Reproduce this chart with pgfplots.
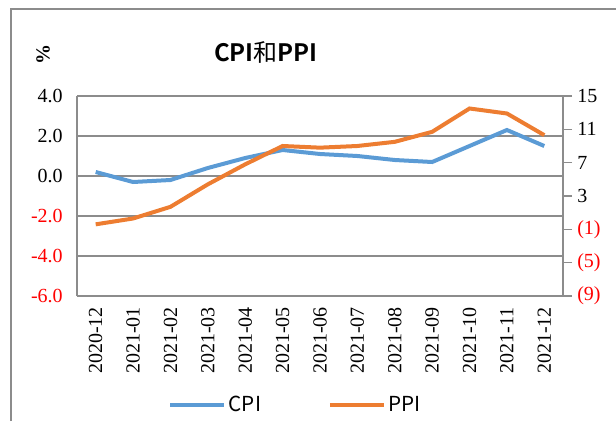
\documentclass[border=0pt]{standalone}
\usepackage{pgfplots}
\pgfplotsset{compat=1.18}
\usepackage{fontspec}
\setmainfont{Liberation Serif}
\newfontfamily\cjk{Noto Sans CJK SC}[BoldFont={Noto Sans CJK SC Bold}]
\definecolor{cpiblue}{HTML}{5B9BD5}
\definecolor{ppiorange}{HTML}{ED7D31}
\definecolor{gridgray}{HTML}{8C8C8C}
\begin{document}
\begin{tikzpicture}
\useasboundingbox (0,0) rectangle (462pt,315.75pt);
\draw[gridgray, line width=1.2pt] (8.25pt,0pt) -- (8.25pt,309pt) -- (462pt,309pt);
\node[font=\cjk\bfseries\fontsize{18}{20}\selectfont, anchor=center] at (199.5pt,276.75pt) {CPI{\mdseries 和}PPI};
\node[font=\bfseries\fontsize{15}{17}\selectfont, rotate=90, anchor=center] at (32.25pt,274.5pt) {\%};
\begin{axis}[
  at={(57.75pt,93.75pt)}, anchor=south west,
  scale only axis, width=364.5pt, height=150pt,
  xmin=-0.5, xmax=12.5, ymin=-6, ymax=4,
  xtick={0,...,12},
  xticklabels={2020-12,2021-01,2021-02,2021-03,2021-04,2021-05,2021-06,2021-07,2021-08,2021-09,2021-10,2021-11,2021-12},
  ytick={-6,-4,-2,0,2,4},
  yticklabels={{\textcolor{red}{-6.0}},{\textcolor{red}{-4.0}},{\textcolor{red}{-2.0}},0.0,2.0,4.0},
  major tick length=0pt,
  ymajorgrids,
  grid style={gridgray, line width=1.2pt},
  axis line style={gridgray, line width=1.2pt},
  axis y line*=left, axis x line*=bottom,
  separate axis lines,
  every outer x axis line/.append style={gridgray},
  yticklabel style={font=\fontsize{15}{17}\selectfont, inner sep=0pt, anchor=east, xshift=-10.5pt},
  xticklabel style={font=\fontsize{15}{17}\selectfont, inner sep=0pt, yshift=-8.25pt, rotate=90, anchor=east},
  clip=false,
  legend columns=2,
  legend style={draw=none, fill=none, at={(0.4500,-0.545)}, anchor=center,
    font=\cjk\fontsize{15.5}{17}\selectfont,
    /tikz/every even column/.append style={column sep=48pt}},
  legend image code/.code={\draw[#1] (0pt,0pt) -- (40.5pt,0pt);},
]
\addplot[cpiblue, line width=3pt] coordinates {
(0,0.2) (1,-0.3) (2,-0.2) (3,0.4) (4,0.9) (5,1.3) (6,1.1) (7,1.0) (8,0.8) (9,0.7) (10,1.5) (11,2.3) (12,1.5)};
\addlegendentry{CPI}
\addlegendimage{ppiorange, line width=3pt}
\addlegendentry{PPI}
\end{axis}
\begin{axis}[
  at={(57.75pt,93.75pt)}, anchor=south west,
  scale only axis, width=364.5pt, height=150pt,
  xmin=-0.5, xmax=12.5, ymin=-9, ymax=15,
  axis x line=none,
  axis y line*=right,
  ytick={-9,-5,-1,3,7,11,15},
  yticklabels={{\textcolor{red}{(9)}},{\textcolor{red}{(5)}},{\textcolor{red}{(1)}},3,7,11,15},
  tick align=outside,
  major tick length=6.75pt,
  tick style={gridgray, line width=1.2pt},
  axis line style={gridgray, line width=1.2pt},
  yticklabel style={font=\fontsize{15}{17}\selectfont, inner sep=0pt, anchor=west, xshift=3.75pt},
  clip=false,
]
\addplot[ppiorange, line width=3pt] coordinates {
(0,-0.4) (1,0.3) (2,1.7) (3,4.4) (4,6.8) (5,9.0) (6,8.8) (7,9.0) (8,9.5) (9,10.7) (10,13.5) (11,12.9) (12,10.3)};
\end{axis}
\end{tikzpicture}
\end{document}
